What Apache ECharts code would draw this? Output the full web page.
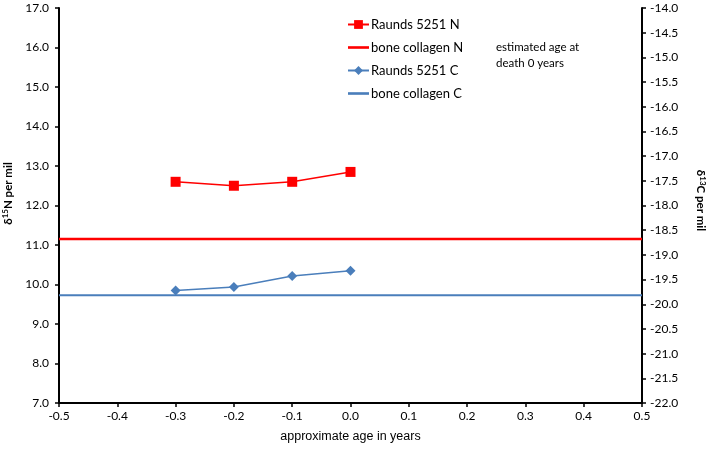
<!DOCTYPE html>
<html><head><meta charset="utf-8">
<script src="https://cdn.jsdelivr.net/npm/echarts@6/dist/echarts.min.js"></script>
<style>html,body{margin:0;padding:0;background:#fff}#c{width:709px;height:450px}</style>
</head><body><div id="c"></div>
<script>
const ages = [-0.3, -0.2, -0.1, 0.0];
const raundsN = [12.6, 12.5, 12.6, 12.85];
const raundsC = [-19.72, -19.65, -19.43, -19.32];
const boneCollagenN = 11.15;
const boneCollagenC = -19.82;
const xRange = [-0.5, 0.5];
const font = 'Lato';
const lineIcon = 'path://M0,0H20V2.5H0Z';

const titleRich = {
  d: { fontFamily: font, fontSize: 11.5, fontWeight: 'bold', color: '#000' },
  s: { fontFamily: font, fontSize: 8, fontWeight: 'bold', color: '#000', verticalAlign: 'top', padding: [0, 0, 5, 0] }
};

const chart = echarts.init(document.getElementById('c'));
chart.setOption({
  animation: false,
  textStyle: { fontFamily: font },
  grid: { left: 59, right: 67, top: 8, bottom: 47, containLabel: false, outerBoundsMode: 'none' },
  legend: {
    orient: 'vertical', left: 347, top: 18, padding: 0, itemGap: 10, itemWidth: 21, itemHeight: 11,
    textStyle: { fontFamily: font, fontSize: 13, color: '#000', padding: [0, 0, 0, -3] },
    data: [
      { name: 'Raunds 5251 N' },
      { name: 'bone collagen N', icon: lineIcon },
      { name: 'Raunds 5251 C' },
      { name: 'bone collagen C', icon: lineIcon }
    ]
  },
  graphic: [{
    type: 'text', left: 496, top: 39,
    style: { text: 'estimated age at\ndeath 0 years', font: '11.5px Lato', fill: '#000', lineHeight: 16 }
  }],
  xAxis: {
    type: 'value', min: -0.5, max: 0.5, interval: 0.1,
    name: 'approximate age in years', nameLocation: 'middle', nameGap: 27,
    nameTextStyle: { fontFamily: 'Liberation Sans', fontSize: 12.5, color: '#000' },
    axisLine: { onZero: false, lineStyle: { color: '#000', width: 2 } },
    axisTick: { show: true, length: 4, lineStyle: { color: '#000', width: 1.5 } },
    axisLabel: { color: '#000', fontSize: 12, margin: 7, formatter: v => v.toFixed(1) },
    splitLine: { show: false }
  },
  yAxis: [{
    type: 'value', min: 7, max: 17, interval: 1, position: 'left',
    name: '{d|δ}{s|15}{d|N per mil}', nameLocation: 'middle', nameGap: 41, nameRotate: 90,
    nameTextStyle: { rich: titleRich, padding: [0, 0, 0, 24] },
    axisLine: { show: true, onZero: false, lineStyle: { color: '#000', width: 2 } },
    axisTick: { show: true, length: 4, lineStyle: { color: '#000', width: 1.5 } },
    axisLabel: { color: '#000', fontSize: 12, margin: 10, formatter: v => v.toFixed(1) },
    splitLine: { show: false }
  }, {
    type: 'value', min: -22, max: -14, interval: 0.5, position: 'right',
    name: '{d|δ}{s|13}{d|C per mil}', nameLocation: 'middle', nameGap: 52, nameRotate: -90,
    nameTextStyle: { rich: titleRich, padding: [0, 10, 0, 0] },
    axisLine: { show: true, onZero: false, lineStyle: { color: '#000', width: 2 } },
    axisTick: { show: true, length: 4, lineStyle: { color: '#000', width: 1.5 } },
    axisLabel: { color: '#000', fontSize: 12, margin: 8, formatter: v => v.toFixed(1) },
    splitLine: { show: false }
  }],
  series: [{
    name: 'Raunds 5251 N', type: 'line', yAxisIndex: 0,
    data: ages.map((a, i) => [a, raundsN[i]]),
    symbol: 'rect', symbolSize: 10,
    itemStyle: { color: '#FF0000' }, lineStyle: { color: '#FF0000', width: 1.5 }
  }, {
    name: 'bone collagen N', type: 'line', yAxisIndex: 0,
    data: xRange.map(x => [x, boneCollagenN]),
    symbol: 'none', itemStyle: { color: '#FF0000' }, lineStyle: { color: '#FF0000', width: 2.5 }
  }, {
    name: 'Raunds 5251 C', type: 'line', yAxisIndex: 1,
    data: ages.map((a, i) => [a, raundsC[i]]),
    symbol: 'diamond', symbolSize: 10,
    itemStyle: { color: '#4A7EBB' }, lineStyle: { color: '#4A7EBB', width: 1.5 }
  }, {
    name: 'bone collagen C', type: 'line', yAxisIndex: 1,
    data: xRange.map(x => [x, boneCollagenC]),
    symbol: 'none', itemStyle: { color: '#4A7EBB' }, lineStyle: { color: '#4A7EBB', width: 2 }
  }]
});
</script></body></html>
